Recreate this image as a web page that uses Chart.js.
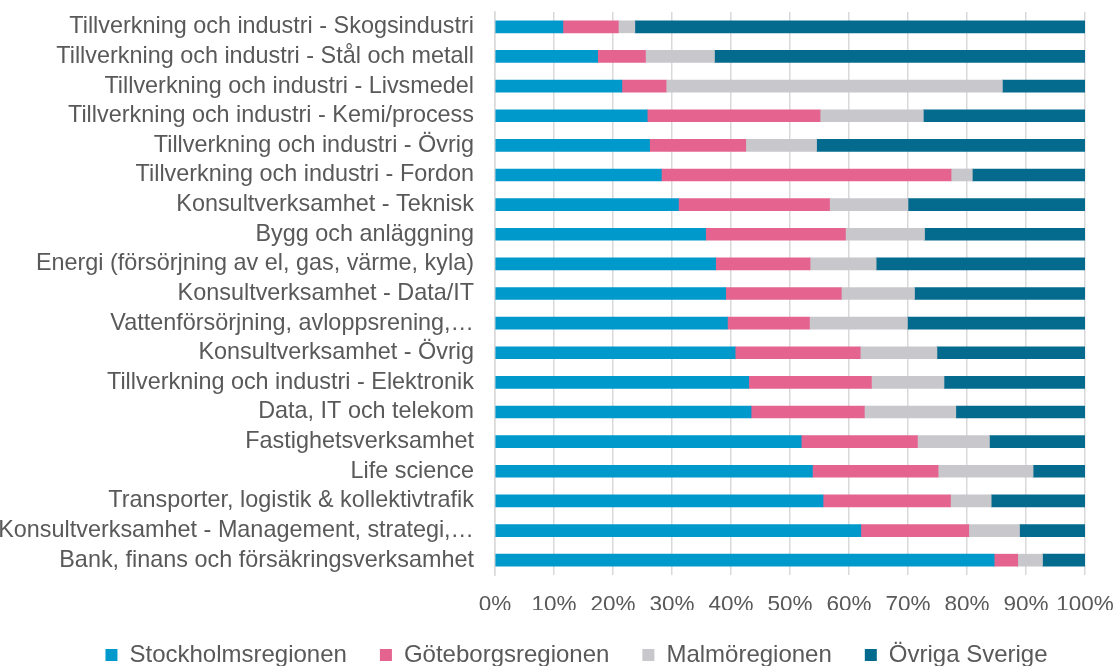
<!DOCTYPE html>
<html>
<head>
<meta charset="utf-8">
<script src="https://cdn.jsdelivr.net/npm/chart.js@4/dist/chart.umd.min.js"></script>
<style>
  html, body { margin: 0; padding: 0; background: #fff; }
  #wrap { width: 1117px; height: 666px; }
</style>
</head>
<body>
<div id="wrap"><canvas id="regionChart"></canvas></div>
<script>
// Andel per region och bransch (%)
const categories = [
    'Tillverkning och industri - Skogsindustri',
    'Tillverkning och industri - Stål och metall',
    'Tillverkning och industri - Livsmedel',
    'Tillverkning och industri - Kemi/process',
    'Tillverkning och industri - Övrig',
    'Tillverkning och industri - Fordon',
    'Konsultverksamhet - Teknisk',
    'Bygg och anläggning',
    'Energi (försörjning av el, gas, värme, kyla)',
    'Konsultverksamhet - Data/IT',
    'Vattenförsörjning, avloppsrening,…',
    'Konsultverksamhet - Övrig',
    'Tillverkning och industri - Elektronik',
    'Data, IT och telekom',
    'Fastighetsverksamhet',
    'Life science',
    'Transporter, logistik & kollektivtrafik',
    'Konsultverksamhet - Management, strategi,…',
    'Bank, finans och försäkringsverksamhet'
];

const stockholm = [11.5, 17.4, 21.5, 25.8, 26.2, 28.2, 31.1, 35.7, 37.4, 39.1, 39.4, 40.7, 43.0, 43.4, 51.9, 53.8, 55.6, 62.0, 84.6];
const goteborg  = [9.4, 8.1, 7.5, 29.3, 16.3, 49.1, 25.6, 23.7, 16.0, 19.6, 13.9, 21.2, 20.8, 19.2, 19.7, 21.3, 21.6, 18.3, 4.0];
const malmo     = [2.8, 11.7, 57.0, 17.5, 12.0, 3.6, 13.3, 13.4, 11.2, 12.4, 16.6, 13.0, 12.3, 15.5, 12.2, 16.1, 6.9, 8.6, 4.2];
const ovriga    = [76.3, 62.8, 14.0, 27.4, 45.5, 19.1, 30.0, 27.2, 35.4, 28.9, 30.1, 25.1, 23.9, 21.9, 16.2, 8.8, 15.9, 11.1, 7.2];

const seriesNames = ['Stockholmsregionen', 'Göteborgsregionen', 'Malmöregionen', 'Övriga Sverige'];
const xTicks = [0, 10, 20, 30, 40, 50, 60, 70, 80, 90, 100];

const colors = ['#0099cc', '#e5648f', '#c8c7cc', '#046b8e'];
const textColor = '#595959';
const fontFamily = '"Liberation Sans", Arial, sans-serif';

// shift the legend so it is centred like in the original (not over the full width)
const legendShift = {
    id: 'legendShift',
    afterLayout(chart) {
        chart.legend.left += 34;
        chart.legend.right += 34;
    }
};

const ctx = document.getElementById('regionChart').getContext('2d');
const chart = new Chart(ctx, {
    type: 'bar',
    data: {
        labels: categories,
        datasets: [stockholm, goteborg, malmo, ovriga].map((vals, i) => ({
            label: seriesNames[i],
            data: vals,
            backgroundColor: colors[i],
            borderWidth: 0,
            barThickness: 12
        }))
    },
    plugins: [legendShift],
    options: {
        indexAxis: 'y',
        responsive: true,
        maintainAspectRatio: false,
        animation: false,
        layout: {
            padding: { top: 12, right: 32, bottom: -11, left: 0 }
        },
        plugins: {
            legend: {
                position: 'bottom',
                labels: {
                    boxWidth: 12,
                    boxHeight: 12,
                    padding: 33,
                    color: textColor,
                    font: { family: fontFamily, size: 24, lineHeight: 1.0 }
                }
            },
            tooltip: { enabled: false }
        },
        scales: {
            x: {
                stacked: true,
                min: 0,
                max: 100,
                afterBuildTicks: function(scale) {
                    scale.ticks = xTicks.map(v => ({ value: v }));
                },
                afterFit: function(scale) {
                    scale.height = 35;
                    scale.paddingLeft = 0;
                    scale.paddingRight = 0;
                },
                grid: {
                    color: '#d9d9d9',
                    lineWidth: 1.5,
                    drawTicks: false
                },
                border: { display: false },
                ticks: {
                    padding: 16,
                    color: textColor,
                    font: { family: fontFamily, size: 22.5 },
                    maxRotation: 0,
                    autoSkip: false,
                    callback: function(value) {
                        return value + '%';
                    }
                }
            },
            y: {
                stacked: true,
                afterFit: function(scale) {
                    scale.width = 495;
                    scale.paddingTop = 0;
                    scale.paddingBottom = 0;
                },
                grid: { display: false, drawTicks: false },
                border: { color: '#d9d9d9', width: 1.5 },
                ticks: {
                    padding: 21,
                    color: textColor,
                    font: { family: fontFamily, size: 23.4 },
                    autoSkip: false
                }
            }
        }
    }
});
</script>
</body>
</html>
